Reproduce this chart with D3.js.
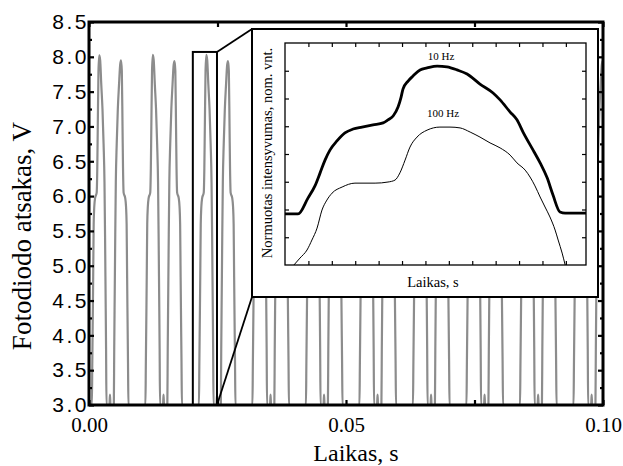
<!DOCTYPE html>
<html>
<head>
<meta charset="utf-8">
<script src="https://cdn.jsdelivr.net/npm/d3@7"></script>
<style>
  body { margin: 0; background: #fff; }
  svg { display: block; }
</style>
</head>
<body>
<svg id="chart" width="623" height="466"></svg>
<script>
// ---- Photodiode response: two mirror-image pulses per scan period ----
// Pulses with the shoulder on the rising side (time of maximum, s / peak level, V)
const pulseTimesA   = [0.00200, 0.01242, 0.02283, 0.03324, 0.04365, 0.05406, 0.06447, 0.07488, 0.08530, 0.09571];
const pulseHeightsA = [8.02, 8.03, 8.03, 8.02, 8.03, 8.02, 8.03, 8.02, 8.03, 8.02];
// Pulses with the shoulder on the falling side
const pulseTimesB   = [0.00623, 0.01664, 0.02705, 0.03746, 0.04788, 0.05829, 0.06870, 0.07911, 0.08952, 0.09993];
const pulseHeightsB = [7.95, 7.94, 7.94, 7.95, 7.94, 7.95, 7.94, 7.94, 7.95, 7.94];

// Outline of one pulse: time offset from the maximum (ms) and level (V); null = peak level
const shapeA_ms = [-1.44, -1.36, -1.245, -1.167, -1.09, -0.973, -0.817, -0.506, -0.389, -0.292, -0.156, 0,    0.175, 0.389, 0.623, 0.837, 1.012, 1.128, 1.226, 1.323, 1.40, 1.98, 2.08, 2.18];
const shapeA_V  = [ 3.00,  3.60,  4.40,   5.00,   5.60,  5.85,   5.97,   6.05,   6.40,   7.00,   7.80,  null, 7.95,  7.60,  7.25,  6.75,  6.20,  5.40,  4.60,  3.80,  3.00, 3.00, 3.15, 3.00];
const shapeB_ms = [-1.40, -1.323, -1.226, -1.128, -1.012, -0.837, -0.623, -0.389, -0.175, 0,    0.156, 0.292, 0.389, 0.506, 0.817, 0.973, 1.09, 1.167, 1.245, 1.36, 1.44];
const shapeB_V  = [ 3.00,  3.80,   4.60,   5.40,   6.20,   6.75,   7.25,   7.60,   7.88,  null, 7.80,  7.00,  6.40,  6.05,  5.97,  5.85,  5.60, 5.00,  4.40,  3.60, 3.00];

// Main axis ticks
const yMajorTicks = [3.0, 3.5, 4.0, 4.5, 5.0, 5.5, 6.0, 6.5, 7.0, 7.5, 8.0, 8.5];
const yMinorTicks = [3.25, 3.75, 4.25, 4.75, 5.25, 5.75, 6.25, 6.75, 7.25, 7.75, 8.25];
const xMajorTicks = [0.00, 0.05, 0.10];
const xMinorTicks = [0.025, 0.075];

// Magnified window (s, V)
const zoomT = [0.0202, 0.0249];
const zoomV = [3.0, 8.07];

// ---- Inset: normalised intensity of a single pulse ----
const insetT10  = [0, 0.56, 0.98, 1.28, 1.50, 1.71, 1.92, 2.22, 2.56, 2.91, 3.29, 3.76, 4.19, 4.40, 4.62, 4.83, 4.96, 5.04, 5.26, 5.47, 5.77, 6.07, 6.50, 6.92, 7.35, 7.78, 8.33, 8.89, 9.19, 9.62, 9.91, 10.17, 10.60, 10.90, 11.20, 11.45, 11.75, 11.97, 12.86];
const insetI10  = [1.84, 1.84, 2.41, 2.85, 3.32, 3.78, 4.14, 4.47, 4.76, 4.90, 4.97, 5.05, 5.12, 5.23, 5.37, 5.69, 6.05, 6.34, 6.63, 6.81, 7.03, 7.10, 7.17, 7.14, 7.03, 6.88, 6.52, 6.20, 5.95, 5.51, 5.23, 4.79, 4.14, 3.68, 3.14, 2.52, 1.91, 1.87, 1.87];
const insetT100 = [0.38, 0.64, 0.94, 1.15, 1.37, 1.58, 1.79, 2.01, 2.44, 2.99, 3.85, 4.40, 4.70, 4.91, 5.13, 5.34, 5.64, 6.07, 6.62, 7.05, 7.48, 7.91, 8.33, 8.76, 9.19, 9.62, 9.91, 10.26, 10.47, 10.68, 10.90, 11.11, 11.32, 11.54, 11.67, 11.84, 11.97];
const insetI100 = [0, 0.25, 0.54, 0.90, 1.33, 1.98, 2.34, 2.59, 2.81, 2.95, 2.95, 2.99, 3.06, 3.32, 3.78, 4.25, 4.61, 4.86, 4.97, 4.97, 4.94, 4.79, 4.61, 4.40, 4.22, 3.96, 3.68, 3.42, 3.17, 2.85, 2.45, 2.09, 1.73, 1.26, 0.90, 0.43, 0];
const insetXTicks = [1, 2, 3, 4, 5, 6, 7, 8, 9, 10, 11, 12];
const insetYTicks = [1, 2, 3, 4, 5, 6, 7];
const insetLabels = ["10 Hz", "100 Hz"];
const insetLabelPos = [[6.67, 7.39], [6.75, 5.33]];

const SERIF = "'Liberation Serif', 'Times New Roman', Times, serif";
const SANS  = "'Liberation Sans', Arial, Helvetica, sans-serif";

const svg = d3.select("#chart");

// Main plot area
const plot = { left: 89, right: 603, top: 22, bottom: 405 };
const x = d3.scaleLinear().domain([0, 0.1]).range([plot.left, plot.right]);
const y = d3.scaleLinear().domain([3.0, 8.5]).range([plot.bottom, plot.top]);

svg.append("defs").append("clipPath").attr("id", "plotClip")
  .append("rect")
  .attr("x", plot.left).attr("y", plot.top)
  .attr("width", plot.right - plot.left).attr("height", plot.bottom - plot.top);

// Assemble the trace from the pulse list
const pulses = [];
pulseTimesA.forEach((t, i) => pulses.push({ t, h: pulseHeightsA[i], ms: shapeA_ms, v: shapeA_V }));
pulseTimesB.forEach((t, i) => pulses.push({ t, h: pulseHeightsB[i], ms: shapeB_ms, v: shapeB_V }));
pulses.sort((a, b) => a.t - b.t);
const trace = [[0, 3.0]];
pulses.forEach(p => {
  p.ms.forEach((o, k) => trace.push([p.t + o / 1000, p.v[k] === null ? p.h : p.v[k]]));
});
trace.push([0.1, 3.0]);

const line = d3.line().x(d => x(d[0])).y(d => y(d[1])).curve(d3.curveMonotoneX);
svg.append("path")
  .datum(trace)
  .attr("clip-path", "url(#plotClip)")
  .attr("fill", "none")
  .attr("stroke", "#8c8c8c")
  .attr("stroke-width", 2.2)
  .attr("stroke-linejoin", "round")
  .attr("d", line);

// Axes with inward ticks
function styleAxis(g) {
  g.select(".domain").remove();
  g.selectAll(".tick line").attr("stroke", "#000").attr("stroke-width", 2.2);
}
const gLeft = svg.append("g").attr("transform", `translate(${plot.left},0)`)
  .call(d3.axisLeft(y).tickValues(yMajorTicks).tickSize(-5).tickPadding(3).tickFormat(d3.format(".1f")));
styleAxis(gLeft);
gLeft.selectAll("text")
  .attr("x", 0)
  .attr("font-family", SANS).attr("font-size", 21).attr("letter-spacing", 2.5)
  .attr("fill", "#000");

svg.append("g").attr("transform", `translate(${plot.left},0)`)
  .call(d3.axisLeft(y).tickValues(yMinorTicks).tickSize(-3).tickFormat(""))
  .call(styleAxis);
svg.append("g").attr("transform", `translate(${plot.right},0)`)
  .call(d3.axisRight(y).tickValues(yMajorTicks).tickSize(-5).tickFormat(""))
  .call(styleAxis);
svg.append("g").attr("transform", `translate(${plot.right},0)`)
  .call(d3.axisRight(y).tickValues(yMinorTicks).tickSize(-3).tickFormat(""))
  .call(styleAxis);

const gBottom = svg.append("g").attr("transform", `translate(0,${plot.bottom})`)
  .call(d3.axisBottom(x).tickValues(xMajorTicks).tickSize(-5).tickPadding(12).tickFormat(d3.format(".2f")));
styleAxis(gBottom);
gBottom.selectAll("text").attr("font-family", SERIF).attr("font-size", 21).attr("fill", "#000");
svg.append("g").attr("transform", `translate(0,${plot.bottom})`)
  .call(d3.axisBottom(x).tickValues(xMinorTicks).tickSize(-5).tickFormat(""))
  .call(styleAxis);
svg.append("g").attr("transform", `translate(0,${plot.top})`)
  .call(d3.axisTop(x).tickValues(xMajorTicks.concat(xMinorTicks)).tickSize(-5).tickFormat(""))
  .call(styleAxis);

// Frame
svg.append("rect")
  .attr("x", plot.left).attr("y", plot.top)
  .attr("width", plot.right - plot.left).attr("height", plot.bottom - plot.top)
  .attr("fill", "none").attr("stroke", "#000").attr("stroke-width", 3);

// Axis titles
svg.append("text")
  .attr("x", 356).attr("y", 461)
  .attr("text-anchor", "middle")
  .attr("font-family", SERIF).attr("font-size", 24)
  .text("Laikas, s");
svg.append("text")
  .attr("transform", "translate(31,236) rotate(-90)")
  .attr("text-anchor", "middle")
  .attr("font-family", SERIF).attr("font-size", 27)
  .text("Fotodiodo atsakas, V");

// Magnified window and connectors
const box = { left: 252, right: 598, top: 29, bottom: 297 };
svg.append("rect")
  .attr("x", x(zoomT[0])).attr("y", y(zoomV[1]))
  .attr("width", x(zoomT[1]) - x(zoomT[0])).attr("height", y(zoomV[0]) - y(zoomV[1]))
  .attr("fill", "none").attr("stroke", "#000").attr("stroke-width", 2);
svg.append("line")
  .attr("x1", x(zoomT[1])).attr("y1", y(zoomV[1])).attr("x2", box.left).attr("y2", box.top)
  .attr("stroke", "#000").attr("stroke-width", 1.8);
svg.append("line")
  .attr("x1", x(zoomT[1])).attr("y1", y(zoomV[0])).attr("x2", box.left).attr("y2", box.bottom)
  .attr("stroke", "#000").attr("stroke-width", 1.8);

// Inset panel
svg.append("rect")
  .attr("x", box.left).attr("y", box.top)
  .attr("width", box.right - box.left).attr("height", box.bottom - box.top)
  .attr("fill", "#fff").attr("stroke", "#000").attr("stroke-width", 2);

const ip = { left: 285, right: 586, top: 43, bottom: 265 };
const ix = d3.scaleLinear().domain([0, 12.86]).range([ip.left, ip.right]);
const iy = d3.scaleLinear().domain([0, 8]).range([ip.bottom, ip.top]);

function styleInsetAxis(g) {
  g.select(".domain").remove();
  g.selectAll(".tick line").attr("stroke", "#000").attr("stroke-width", 1.2);
}
svg.append("g").attr("transform", `translate(0,${ip.bottom})`)
  .call(d3.axisBottom(ix).tickValues(insetXTicks).tickSize(-4).tickFormat("")).call(styleInsetAxis);
svg.append("g").attr("transform", `translate(0,${ip.top})`)
  .call(d3.axisTop(ix).tickValues(insetXTicks).tickSize(-4).tickFormat("")).call(styleInsetAxis);
svg.append("g").attr("transform", `translate(${ip.left},0)`)
  .call(d3.axisLeft(iy).tickValues(insetYTicks).tickSize(-4).tickFormat("")).call(styleInsetAxis);
svg.append("g").attr("transform", `translate(${ip.right},0)`)
  .call(d3.axisRight(iy).tickValues(insetYTicks).tickSize(-4).tickFormat("")).call(styleInsetAxis);

const iline = d3.line().x(d => ix(d[0])).y(d => iy(d[1])).curve(d3.curveMonotoneX);
svg.append("path")
  .datum(insetT10.map((t, i) => [t, insetI10[i]]))
  .attr("fill", "none").attr("stroke", "#000").attr("stroke-width", 2.8)
  .attr("stroke-linejoin", "round").attr("d", iline);
svg.append("path")
  .datum(insetT100.map((t, i) => [t, insetI100[i]]))
  .attr("fill", "none").attr("stroke", "#000").attr("stroke-width", 1)
  .attr("stroke-linejoin", "round").attr("d", iline);

svg.append("rect")
  .attr("x", ip.left).attr("y", ip.top)
  .attr("width", ip.right - ip.left).attr("height", ip.bottom - ip.top)
  .attr("fill", "none").attr("stroke", "#000").attr("stroke-width", 1.3);

insetLabels.forEach((lab, i) => {
  svg.append("text")
    .attr("x", ix(insetLabelPos[i][0])).attr("y", iy(insetLabelPos[i][1]))
    .attr("text-anchor", "middle")
    .attr("font-family", SERIF).attr("font-size", 11)
    .text(lab);
});
svg.append("text")
  .attr("x", 433).attr("y", 287)
  .attr("text-anchor", "middle")
  .attr("font-family", SERIF).attr("font-size", 14.5)
  .text("Laikas, s");
svg.append("text")
  .attr("transform", "translate(272,153) rotate(-90)")
  .attr("text-anchor", "middle")
  .attr("font-family", SERIF).attr("font-size", 14.5)
  .text("Normuotas intensyvumas, nom. vnt.");
</script>
</body>
</html>
